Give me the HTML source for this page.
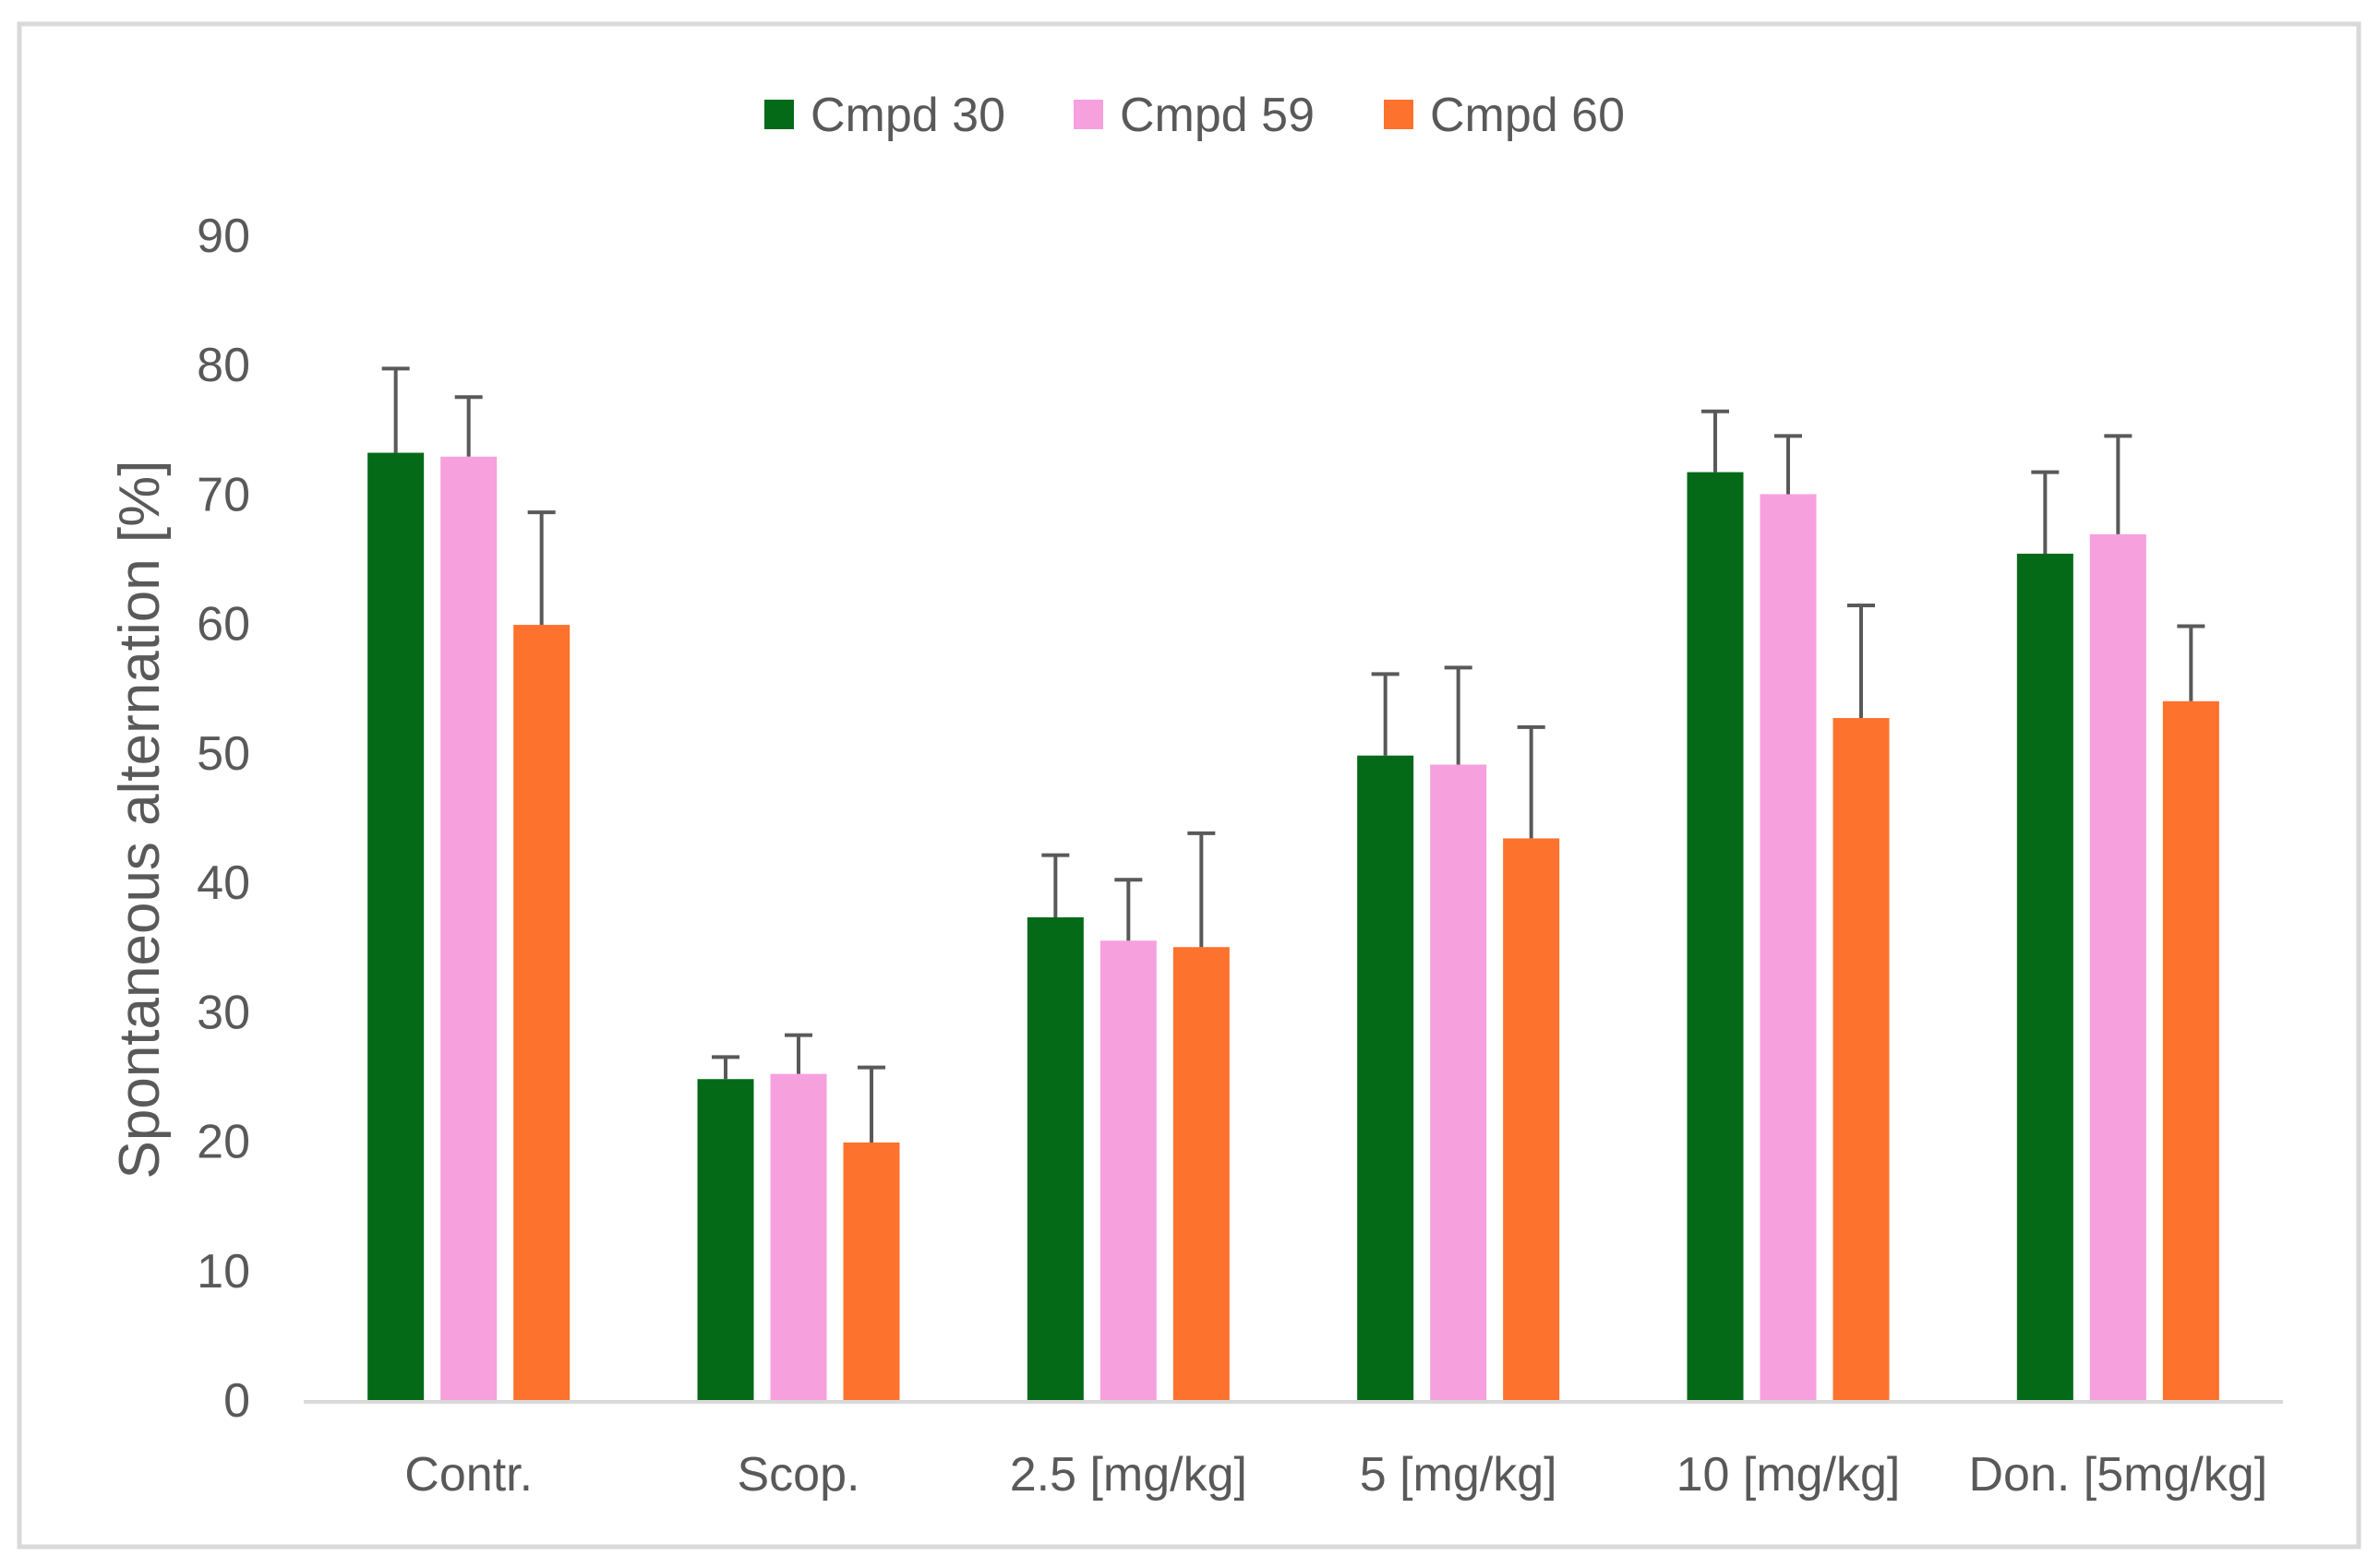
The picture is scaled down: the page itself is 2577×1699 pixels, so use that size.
<!DOCTYPE html>
<html><head><meta charset="utf-8"><style>
html,body{margin:0;padding:0;background:#fff;}
svg{display:block;font-family:"Liberation Sans",sans-serif;}
</style></head><body>
<svg id="chart" width="2577" height="1699" viewBox="0 0 2577 1699">
<rect x="21" y="26" width="2534" height="1650" fill="#fff" stroke="#d9d9d9" stroke-width="5"/>
<g id="legend"></g>
<g id="yaxis"></g>
<g id="bars"></g>
<g id="xaxis"></g>
<text x="0" y="0" transform="translate(172,888) rotate(-90)" text-anchor="middle" font-size="62" fill="#595959">Spontaneous alternation [%]</text>
</svg>
<script>
const categories = ["Contr.", "Scop.", "2.5 [mg/kg]", "5 [mg/kg]", "10 [mg/kg]", "Don. [5mg/kg]"];
const seriesNames = ["Cmpd 30", "Cmpd 59", "Cmpd 60"];
const cmpd30 = [73.2, 24.8, 37.3, 49.8, 71.7, 65.4];
const cmpd59 = [72.9, 25.2, 35.5, 49.1, 70.0, 66.9];
const cmpd60 = [59.9, 19.9, 35.0, 43.4, 52.7, 54.0];
const cmpd30Err = [6.5, 1.7, 4.8, 6.3, 4.7, 6.3];
const cmpd59Err = [4.6, 3.0, 4.7, 7.5, 4.5, 7.6];
const cmpd60Err = [8.7, 5.8, 8.8, 8.6, 8.7, 5.8];
const yTicks = [0, 10, 20, 30, 40, 50, 60, 70, 80, 90];

const NS = "http://www.w3.org/2000/svg";
const colors = ["#046a18", "#f7a0de", "#fd722c"];
const values = [cmpd30, cmpd59, cmpd60];
const errs = [cmpd30Err, cmpd59Err, cmpd60Err];
const x0 = 329, x1 = 2473, yZero = 1517, yTop = 255, yMax = 90;
const groupW = (x1 - x0) / categories.length;
const barW = 61, step = 79;
function yScale(v){ return yZero - (v / yMax) * (yZero - yTop); }
function xCenter(i, s){ return x0 + groupW * (i + 0.5) + (s - 1) * step; }
function mk(tag, attrs, parent){
  const e = document.createElementNS(NS, tag);
  for (const k in attrs) e.setAttribute(k, attrs[k]);
  parent.appendChild(e);
  return e;
}
const yaxis = document.getElementById("yaxis");
yTicks.forEach(t => {
  const el = mk("text", {x: 271, y: yScale(t) + 18, "text-anchor": "end", "font-size": 52, fill: "#595959"}, yaxis);
  el.textContent = t;
  
  
});
const bars = document.getElementById("bars");
values.forEach((vals, s) => {
  vals.forEach((v, i) => {
    const cx = xCenter(i, s);
    const r = mk("rect", {x: cx - barW / 2, y: yScale(v), width: barW, height: yZero - yScale(v), fill: colors[s]}, bars);
    
    
    const top = yScale(v + errs[s][i]);
    const eb = mk("path", {d: `M${cx},${yScale(v)}V${top}M${cx - 15},${top}H${cx + 15}`, stroke: "#595959", "stroke-width": 4, fill: "none"}, bars);
    
    
  });
});
const xaxis = document.getElementById("xaxis");
const ax = mk("line", {x1: x0, x2: x1, y1: yZero + 2, y2: yZero + 2, stroke: "#d9d9d9", "stroke-width": 4}, xaxis);


categories.forEach((c, i) => {
  const t = mk("text", {x: x0 + groupW * (i + 0.5), y: 1615, "text-anchor": "middle", "font-size": 52, fill: "#595959"}, xaxis);
  t.textContent = c;
  
  
});
const legend = document.getElementById("legend");
const lx = [828, 1163, 1499];
seriesNames.forEach((n, s) => {
  const sq = mk("rect", {x: lx[s], y: 108, width: 32, height: 32, fill: colors[s]}, legend);
  
  
  const t = mk("text", {x: lx[s] + 50, y: 142, "font-size": 52, fill: "#595959"}, legend);
  t.textContent = n;
  
  
});
</script>
</body></html>
